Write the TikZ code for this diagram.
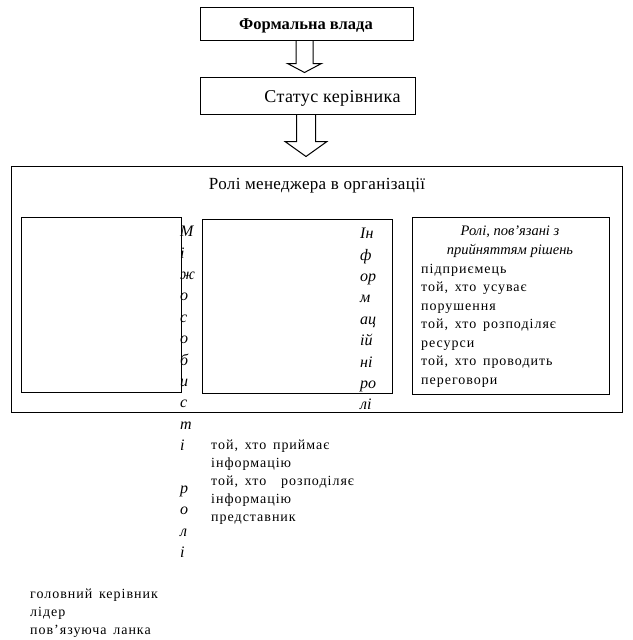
\documentclass[tikz,border=0pt]{standalone}
\usepackage{fontspec}
\setmainfont{Liberation Serif}
\newfontfamily\listfont[LetterSpace=7,WordSpace=1.5]{Liberation Serif}
\usetikzlibrary{calc}

\tikzset{
  frame/.style={draw=black, line width=1pt, inner sep=0pt},
  heading/.style={inner sep=0pt, font=\fontsize{17}{20}\selectfont},
  vletters/.style={align=left, inner sep=0pt, anchor=north west, font=\fontsize{16}{21.4}\selectfont\itshape},
  roleitem/.style={inner sep=0pt, anchor=base west, font=\listfont\fontsize{14}{15}\selectfont},
}

\begin{document}
\begin{tikzpicture}[x=1pt, y=-1pt]
		\useasboundingbox (0,0) rectangle (632,640);

		%top boxes
		\node[frame, minimum width=213pt, minimum height=33pt] (formal) at (306.5,23.5) {};
		\node[heading, font=\fontsize{16.5}{20}\selectfont\bfseries] (formaltext) at (306,25.5) {Формальна влада};
		\node[frame, minimum width=215pt, minimum height=37pt] (status) at (307.5,95.5) {};
		\node[heading, font=\fontsize{18}{20}\selectfont\addfontfeature{LetterSpace=2}] (statustext) at (332.5,98) {Статус керівника};

		%block arrows
		\draw[line width=1pt] ($(formal.south)+(-2,0)$) ++(-8.5,0) -- ++(0,23) -- ++(-8.5,0) -- ++(17,9) -- ++(17,-9) -- ++(-8.5,0) -- ++(0,-23);
		\draw[line width=1pt] ($(status.south)+(-1.5,0)$) ++(-9.5,0) -- ++(0,27) -- ++(-11.5,0) -- ++(21,15) -- ++(21,-15) -- ++(-11.5,0) -- ++(0,-27);

		%outer frame
		\node[frame, minimum width=611pt, minimum height=246pt] (roles) at (317,289) {};
		\node[heading, font=\fontsize{17}{20}\selectfont\addfontfeature{LetterSpace=2}] (rolestext) at (317,186) {Ролі менеджера в організації};

		%inner boxes
		\node[frame, minimum width=160pt, minimum height=175pt] (interpers) at (101,304.5) {};
		\node[frame, minimum width=190pt, minimum height=174pt] (inform) at (297,306) {};
		\node[frame, minimum width=197pt, minimum height=177pt] (decision) at (510.5,305.5) {};

		%vertical labels
		\node[vletters] (interpersv) at (180,226) {М\\і\\ж\\о\\с\\о\\б\\и\\с\\т\\і\\[21.4pt]р\\о\\л\\і};
		\node[vletters] (informv) at (360,228) {Ін\\ф\\ор\\м\\ац\\ій\\ні\\ро\\лі};

		%decision roles
		\node[inner sep=0pt, align=center, font=\fontsize{14.5}{18.7}\selectfont\itshape] (decisiontext) at (510,242) {Ролі, пов’язані з\\прийняттям рішень};
		\node[roleitem] (d1) at (421,273) {підприємець};
		\node[roleitem] (d2) at (421,291.5) {той, хто усуває};
		\node[roleitem] (d3) at (421,310) {порушення};
		\node[roleitem] (d4) at (421,328.5) {той, хто розподіляє};
		\node[roleitem] (d5) at (421,347) {ресурси};
		\node[roleitem] (d6) at (421,365.5) {той, хто проводить};
		\node[roleitem] (d7) at (421,384) {переговори};

		%information roles
		\node[roleitem] (i1) at (211,449) {той, хто приймає};
		\node[roleitem] (i2) at (211,467.2) {інформацію};
		\node[roleitem] (i3) at (211,485.4) {той, хто\hspace{8pt} розподіляє};
		\node[roleitem] (i4) at (211,503.6) {інформацію};
		\node[roleitem] (i5) at (211,521.8) {представник};

		%interpersonal roles
		\node[roleitem] (p1) at (30,598) {головний керівник};
		\node[roleitem] (p2) at (30,616) {лідер};
		\node[roleitem] (p3) at (30,634) {пов’язуюча ланка};
\end{tikzpicture}
\end{document}
